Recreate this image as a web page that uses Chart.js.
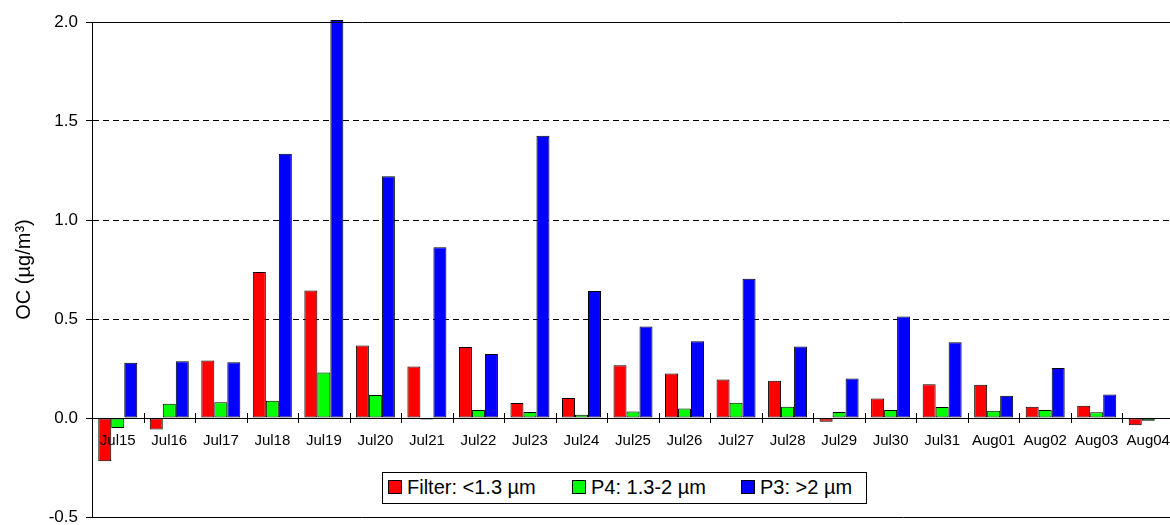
<html>
<head>
<script src="https://cdn.jsdelivr.net/npm/chart.js@4.4.0/dist/chart.umd.min.js"></script>
<style>
  body { margin: 0; overflow: hidden; background: #fff; font-family: "Liberation Sans", Arial, sans-serif; }
  #wrap { position: absolute; left: 0; top: 0; width: 1176px; height: 525px; }
  #legend { position: absolute; left: 382px; top: 472px; width: 485px; height: 32px;
            border: 1px solid #000; box-sizing: border-box; background: #fff; }
  #legend .sw { position: absolute; top: 7px; width: 12px; height: 12px; border: 1px solid #000; }
  #legend .tx { position: absolute; top: 0; line-height: 29px; font-size: 20px; color: #000; white-space: nowrap; }
</style>
</head>
<body>
<div id="wrap"><canvas id="ocChart"></canvas></div>
<div id="legend"></div>
<script>
// daily OC by size fraction
const days = ["Jul15", "Jul16", "Jul17", "Jul18", "Jul19", "Jul20", "Jul21", "Jul22", "Jul23", "Jul24",
  "Jul25", "Jul26", "Jul27", "Jul28", "Jul29", "Jul30", "Jul31", "Aug01", "Aug02", "Aug03", "Aug04"];
const filterOC = [-0.218, -0.058, 0.291, 0.737, 0.644, 0.366, 0.260, 0.358, 0.076, 0.101,
  0.267, 0.225, 0.194, 0.188, -0.019, 0.099, 0.171, 0.168, 0.057, 0.062, -0.036];
const p4OC = [-0.050, 0.072, 0.079, 0.087, 0.230, 0.116, -0.008, 0.040, 0.030, 0.017,
  0.033, 0.048, 0.077, 0.057, 0.030, 0.040, 0.055, 0.036, 0.041, 0.029, -0.014];
const p3OC = [0.279, 0.287, 0.281, 1.335, 2.01, 1.221, 0.863, 0.323, 1.426, 0.642,
  0.462, 0.388, 0.703, 0.361, 0.200, 0.513, 0.383, 0.112, 0.252, 0.119, null];
const yTicks = [-0.5, 0, 0.5, 1.0, 1.5, 2.0];

const seriesNames = ["Filter: <1.3 µm", "P4: 1.3-2 µm", "P3: >2 µm"];
const seriesColors = ["#ff0000", "#00ff00", "#0000ff"];
const seriesData = [filterOC, p4OC, p3OC];

const FONT = "'Liberation Sans', Arial, sans-serif";

// frame lines top/bottom + category ticks crossing the zero line
const framePlugin = {
  id: "frame",
  afterDraw(chart) {
    const { ctx, chartArea: a, scales } = chart;
    const x = scales.x, y = scales.y;
    ctx.save();
    ctx.strokeStyle = "#000";
    ctx.lineWidth = 1;
    ctx.beginPath();
    ctx.moveTo(a.left, Math.round(a.top) + 0.5);
    ctx.lineTo(a.right, Math.round(a.top) + 0.5);
    ctx.moveTo(a.left, Math.round(a.bottom) + 0.5);
    ctx.lineTo(a.right, Math.round(a.bottom) + 0.5);
    const y0 = y.getPixelForValue(0);
    for (let i = 1; i < days.length; i++) {
      const bx = Math.round((x.getPixelForValue(i - 1) + x.getPixelForValue(i)) / 2) + 0.5;
      ctx.moveTo(bx, y0 - 5);
      ctx.lineTo(bx, y0 + 5);
    }
    ctx.stroke();
    ctx.restore();
  }
};

const chart = new Chart(document.getElementById("ocChart"), {
  type: "bar",
  data: {
    labels: days,
    datasets: seriesData.map((d, i) => ({
      label: seriesNames[i],
      data: d,
      backgroundColor: seriesColors[i],
      borderColor: "#000",
      borderWidth: 1,
      borderSkipped: false,
      categoryPercentage: 0.757,
      barPercentage: 1.0,
      clip: false
    }))
  },
  options: {
    responsive: true,
    maintainAspectRatio: false,
    animation: false,
    layout: { padding: { left: 0, top: 22, right: 2, bottom: 8 } },
    plugins: { legend: { display: false }, tooltip: { enabled: false } },
    scales: {
      x: {
        type: "category",
        position: { y: 0 },
        grid: { display: false, drawTicks: false },
        border: { display: true, color: "#000", width: 1, z: 1 },
        ticks: { z: 1, color: "#000", font: { family: FONT, size: 15 }, padding: 14, maxRotation: 0, autoSkip: false },
        afterFit(s) { s.paddingLeft = 0; s.paddingRight = 0; }
      },
      y: {
        min: -0.5,
        max: 2.0,
        afterBuildTicks(s) { s.ticks = yTicks.map(v => ({ value: v })); },
        ticks: {
          color: "#000",
          font: { family: FONT, size: 17 },
          padding: 8,
          callback: v => v.toFixed(1)
        },
        grid: {
          color: ctx => {
            const v = ctx.tick ? ctx.tick.value : null;
            return (v === 0 || v === 2 || v === -0.5) ? "rgba(0,0,0,0)" : "#000";
          },
          tickColor: "#000",
          tickLength: 6,
          lineWidth: 1
        },
        border: { display: true, color: "#000", width: 1, dash: [6, 4] },
        title: {
          display: true,
          text: "OC (µg/m³)",
          color: "#000",
          font: { family: FONT, size: 20 },
          padding: { top: 12, bottom: 0 }
        },
        afterFit(s) { s.width = 92; s.paddingTop = 0; s.paddingBottom = 0; }
      }
    }
  },
  plugins: [framePlugin]
});

// legend box inside the plot area
const legend = document.getElementById("legend");
const swLeft = [5, 189, 358];
seriesNames.forEach((name, i) => {
  const sw = document.createElement("div");
  sw.className = "sw";
  sw.style.left = swLeft[i] + "px";
  sw.style.background = seriesColors[i];
  legend.appendChild(sw);
  const tx = document.createElement("div");
  tx.className = "tx";
  tx.style.left = (swLeft[i] + 19) + "px";
  tx.textContent = name;
  legend.appendChild(tx);
});
</script>
</body>
</html>
